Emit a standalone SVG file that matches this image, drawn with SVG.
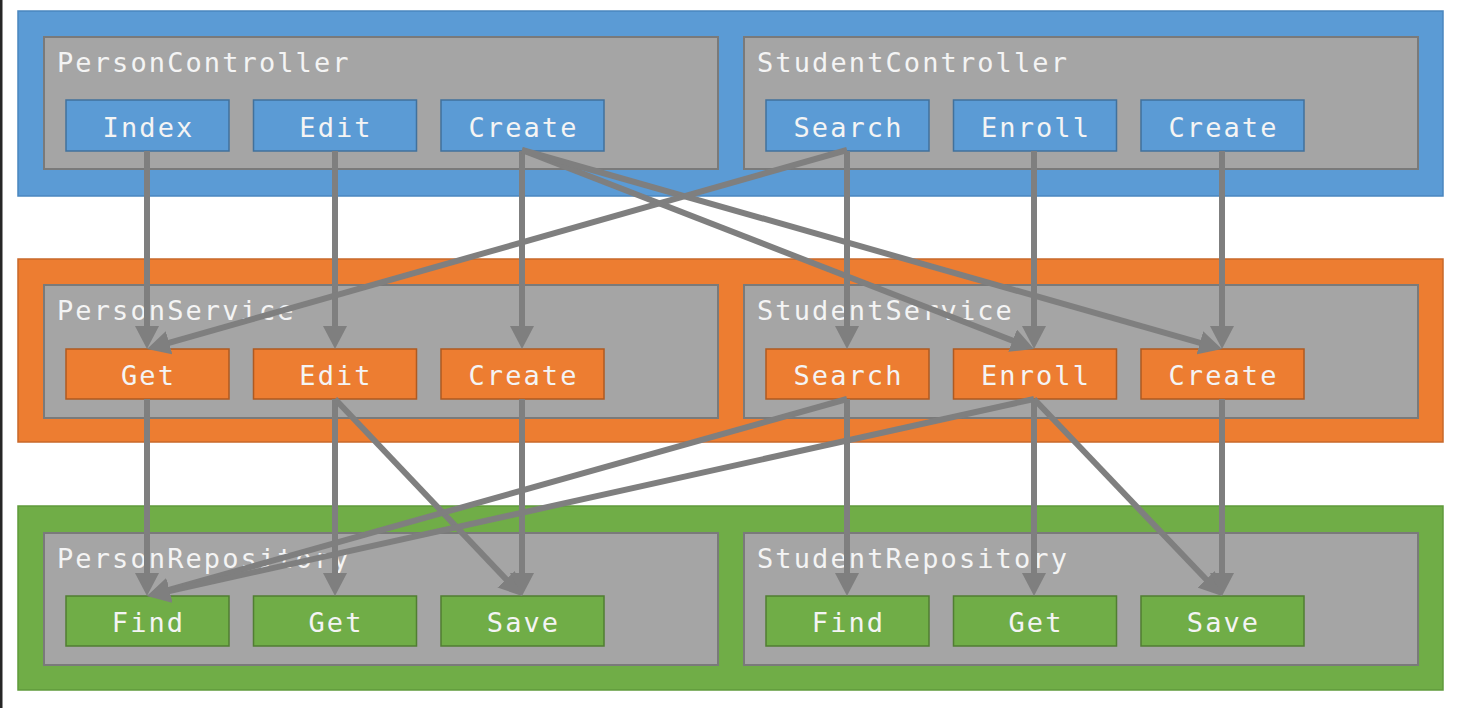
<svg xmlns="http://www.w3.org/2000/svg" width="1461" height="708" viewBox="0 0 1461 708">
<defs>
<style>
.layer-c{fill:#5b9bd5;stroke:#4a86bf;stroke-width:1.5}
.layer-s{fill:#ed7d31;stroke:#c8682a;stroke-width:1.5}
.layer-r{fill:#70ad47;stroke:#5f9a3b;stroke-width:1.5}
.panel{fill:#a5a5a5;stroke:#7a7a7a;stroke-width:2}
.bc{fill:#5b9bd5;stroke:#41719c;stroke-width:1.5}
.bs{fill:#ed7d31;stroke:#ae5a21;stroke-width:1.5}
.br{fill:#70ad47;stroke:#507e32;stroke-width:1.5}
text{font-family:"DejaVu Sans Mono","Liberation Mono",monospace;font-size:27px;fill:#f4f4f4;letter-spacing:2.1px}
.lbl{text-anchor:middle}
.conn line{stroke:#7f7f7f;stroke-width:6;marker-end:url(#ah)}
</style>
<marker id="ah" markerUnits="userSpaceOnUse" markerWidth="24" markerHeight="24" refX="13" refY="12" orient="auto">
<path d="M0,0 L23,12 L0,24 z" fill="#7f7f7f"/>
</marker>
</defs>
<rect x="0" y="0" width="1461" height="708" fill="#ffffff"/>
<rect x="0" y="0" width="2.5" height="708" fill="#262626"/>

<g id="controllers">
<rect class="layer-c" x="18" y="11" width="1425" height="185"/>
<g id="PersonController">
<rect class="panel" x="44" y="37" width="674" height="132"/>
<text x="57" y="71.5">PersonController</text>
<g id="pc-index"><rect class="bc" x="66" y="100" width="163" height="51"/><text class="lbl" x="148.5" y="136.5">Index</text></g>
<g id="pc-edit"><rect class="bc" x="253.5" y="100" width="163" height="51"/><text class="lbl" x="336" y="136.5">Edit</text></g>
<g id="pc-create"><rect class="bc" x="441" y="100" width="163" height="51"/><text class="lbl" x="523.5" y="136.5">Create</text></g>
</g>
<g id="StudentController">
<rect class="panel" x="744" y="37" width="674" height="132"/>
<text x="757" y="71.5">StudentController</text>
<g id="sc-search"><rect class="bc" x="766" y="100" width="163" height="51"/><text class="lbl" x="848.5" y="136.5">Search</text></g>
<g id="sc-enroll"><rect class="bc" x="953.5" y="100" width="163" height="51"/><text class="lbl" x="1036" y="136.5">Enroll</text></g>
<g id="sc-create"><rect class="bc" x="1141" y="100" width="163" height="51"/><text class="lbl" x="1223.5" y="136.5">Create</text></g>
</g>
</g>

<g id="services">
<rect class="layer-s" x="18" y="259" width="1425" height="183"/>
<g id="PersonService">
<rect class="panel" x="44" y="285" width="674" height="133"/>
<text x="57" y="319.5">PersonService</text>
<g id="ps-get"><rect class="bs" x="66" y="349" width="163" height="50"/><text class="lbl" x="148.5" y="385">Get</text></g>
<g id="ps-edit"><rect class="bs" x="253.5" y="349" width="163" height="50"/><text class="lbl" x="336" y="385">Edit</text></g>
<g id="ps-create"><rect class="bs" x="441" y="349" width="163" height="50"/><text class="lbl" x="523.5" y="385">Create</text></g>
</g>
<g id="StudentService">
<rect class="panel" x="744" y="285" width="674" height="133"/>
<text x="757" y="319.5">StudentService</text>
<g id="ss-search"><rect class="bs" x="766" y="349" width="163" height="50"/><text class="lbl" x="848.5" y="385">Search</text></g>
<g id="ss-enroll"><rect class="bs" x="953.5" y="349" width="163" height="50"/><text class="lbl" x="1036" y="385">Enroll</text></g>
<g id="ss-create"><rect class="bs" x="1141" y="349" width="163" height="50"/><text class="lbl" x="1223.5" y="385">Create</text></g>
</g>
</g>

<g id="repositories">
<rect class="layer-r" x="18" y="506" width="1425" height="184"/>
<g id="PersonRepository">
<rect class="panel" x="44" y="533" width="674" height="132"/>
<text x="57" y="567.5">PersonRepository</text>
<g id="pr-find"><rect class="br" x="66" y="596" width="163" height="50"/><text class="lbl" x="148.5" y="632">Find</text></g>
<g id="pr-get"><rect class="br" x="253.5" y="596" width="163" height="50"/><text class="lbl" x="336" y="632">Get</text></g>
<g id="pr-save"><rect class="br" x="441" y="596" width="163" height="50"/><text class="lbl" x="523.5" y="632">Save</text></g>
</g>
<g id="StudentRepository">
<rect class="panel" x="744" y="533" width="674" height="132"/>
<text x="757" y="567.5">StudentRepository</text>
<g id="sr-find"><rect class="br" x="766" y="596" width="163" height="50"/><text class="lbl" x="848.5" y="632">Find</text></g>
<g id="sr-get"><rect class="br" x="953.5" y="596" width="163" height="50"/><text class="lbl" x="1036" y="632">Get</text></g>
<g id="sr-save"><rect class="br" x="1141" y="596" width="163" height="50"/><text class="lbl" x="1223.5" y="632">Save</text></g>
</g>
</g>

<g id="connectors" class="conn">
<line x1="147" y1="151" x2="147" y2="339"/>
<line x1="335" y1="151" x2="335" y2="339"/>
<line x1="522" y1="151" x2="522" y2="339"/>
<line x1="522" y1="150" x2="1024.7" y2="345.4"/>
<line x1="522" y1="150" x2="1212.4" y2="346.3"/>
<line x1="847" y1="150" x2="156.6" y2="346.3"/>
<line x1="847" y1="151" x2="847" y2="339"/>
<line x1="1034" y1="151" x2="1034" y2="339"/>
<line x1="1222" y1="151" x2="1222" y2="339"/>
<line x1="147" y1="399" x2="147" y2="586"/>
<line x1="335" y1="399" x2="335" y2="586"/>
<line x1="335" y1="399" x2="515.1" y2="588.7"/>
<line x1="522" y1="399" x2="522" y2="586"/>
<line x1="847" y1="399" x2="156.6" y2="593.3"/>
<line x1="847" y1="399" x2="847" y2="586"/>
<line x1="1034" y1="399" x2="156.8" y2="593.8"/>
<line x1="1034" y1="399" x2="1034" y2="586"/>
<line x1="1034" y1="399" x2="1215.1" y2="588.8"/>
<line x1="1222" y1="399" x2="1222" y2="586"/>
</g>
</svg>
